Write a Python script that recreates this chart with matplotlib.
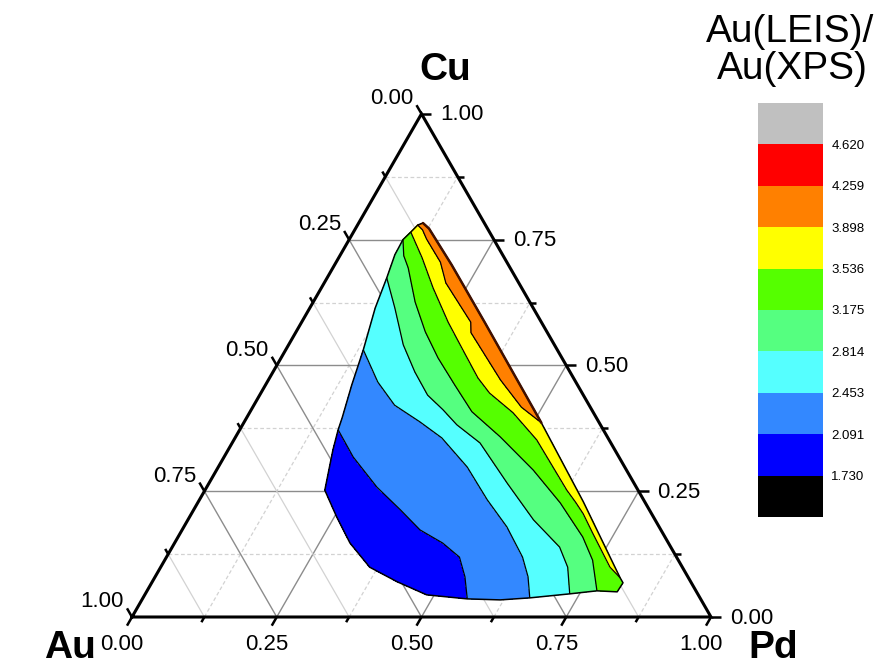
import numpy as np
import matplotlib
matplotlib.use("Agg")
import matplotlib.pyplot as plt
import matplotlib.tri as mtri
from matplotlib.path import Path
from matplotlib.patches import Polygon

plt.rcParams['font.family'] = ['Liberation Sans', 'DejaVu Sans']

# Colour scale of the Au(LEIS)/Au(XPS) ratio
levels = [1.369, 1.730, 2.091, 2.453, 2.814, 3.175, 3.536, 3.898, 4.259, 4.620, 4.981]
band_colors = ['#000000', '#0000ff', '#3388ff', '#55ffff', '#55ff80',
               '#55ff00', '#ffff00', '#ff8000', '#ff0000', '#c0c0c0']
tick_values = [0.00, 0.25, 0.50, 0.75, 1.00]

# Outline of the measured composition area (counter-clockwise from the Cu-rich tip)
edge_cu = [0.783, 0.779, 0.765, 0.750, 0.720, 0.674, 0.614, 0.531, 0.461, 0.396,
           0.372, 0.332, 0.252, 0.199, 0.147, 0.099, 0.070, 0.044, 0.036, 0.034,
           0.038, 0.046, 0.052, 0.050, 0.068, 0.078, 0.229, 0.386, 0.586, 0.700,
           0.772]
edge_pd = [0.111, 0.104, 0.099, 0.093, 0.094, 0.103, 0.113, 0.134, 0.149, 0.165,
           0.170, 0.181, 0.207, 0.254, 0.303, 0.361, 0.423, 0.487, 0.561, 0.619,
           0.668, 0.733, 0.777, 0.813, 0.814, 0.804, 0.665, 0.514, 0.316, 0.202,
           0.127]
edge_ratio = [4.05, 3.898, 3.536, 3.175, 3.00, 2.814, 2.65, 2.453, 2.30, 2.16,
              2.091, 1.98, 1.90, 1.86, 1.86, 1.90, 1.95, 2.02, 2.091, 2.28,
              2.453, 2.814, 3.175, 3.35, 3.45, 3.536, 3.72, 3.898, 4.12, 4.12,
              4.10]

# Compositions inside the area lying on each iso-ratio line
iso_2091_cu = [0.318, 0.258, 0.213, 0.173, 0.147, 0.119, 0.080]
iso_2091_pd = [0.223, 0.294, 0.357, 0.411, 0.463, 0.506, 0.535]
iso_2453_cu = [0.467, 0.421, 0.388, 0.356, 0.298, 0.233, 0.179, 0.119, 0.080]
iso_2453_pd = [0.191, 0.243, 0.303, 0.357, 0.430, 0.497, 0.558, 0.615, 0.644]
iso_2814_cu = [0.614, 0.541, 0.487, 0.441, 0.412, 0.346, 0.266, 0.193, 0.139, 0.099]
iso_2814_pd = [0.147, 0.198, 0.245, 0.290, 0.331, 0.428, 0.515, 0.597, 0.669, 0.703]
iso_3175_cu = [0.694, 0.626, 0.567, 0.515, 0.461, 0.408, 0.358, 0.292, 0.227, 0.159, 0.113]
iso_3175_pd = [0.130, 0.176, 0.223, 0.271, 0.327, 0.383, 0.457, 0.547, 0.626, 0.699, 0.739]
iso_3536_cu = [0.714, 0.654, 0.586, 0.535, 0.475, 0.445, 0.406, 0.352, 0.252, 0.167, 0.099]
iso_3536_pd = [0.144, 0.193, 0.253, 0.302, 0.360, 0.395, 0.455, 0.523, 0.625, 0.712, 0.776]
iso_3898_cu = [0.664, 0.565, 0.471, 0.417]
iso_3898_pd = [0.210, 0.303, 0.401, 0.464]

SQ3 = np.sqrt(3) / 2


def to_xy(cu, pd):
    cu = np.asarray(cu, float)
    pd = np.asarray(pd, float)
    return pd + cu / 2, cu * SQ3


fig = plt.figure(figsize=(8.91, 6.67), dpi=100)
ax = fig.add_axes([0, 0, 1, 1])
ax.set_xlim(-132 / 579, (891 - 132) / 579)
ax.set_ylim((617 - 667) / 581, 617 / 581)
ax.axis('off')

PX = 1 / 580.0
TICK_FS = 16

# ---- grid lines -------------------------------------------------------
for k in range(1, 8):
    v = k / 8
    major = (k % 2 == 0)
    col = '#8c8c8c' if major else '#d2d2d2'
    lw = 1.0 if major else 0.9
    # constant Cu (horizontal)
    x, y = to_xy([v, v], [0, 1 - v])
    ax.plot(x, y, color=col, lw=lw, ls='-' if major else (0, (3, 2)), zorder=1)
    # constant Pd
    x, y = to_xy([0, 1 - v], [v, v])
    ax.plot(x, y, color=col, lw=lw, ls='-' if major else (0, (3, 2)), zorder=1)
    # constant Au
    x, y = to_xy([0, 1 - v], [1 - v, 0])
    ax.plot(x, y, color=col, lw=lw, ls='-', zorder=1)

# ---- triangle frame ---------------------------------------------------
fx, fy = to_xy([0, 0, 1, 0], [0, 1, 0, 0])
ax.plot(fx, fy, color='black', lw=2.2, solid_joinstyle='miter', zorder=6)

# ---- ticks and tick labels --------------------------------------------
dir_bottom = np.array([-0.5, -SQ3])
dir_right = np.array([1.0, 0.0])
dir_left = np.array([-0.5, SQ3])
for k in range(0, 9):
    v = k / 8
    ln = (10 if k % 2 == 0 else 6) * PX
    bx, by = to_xy(0, v)          # bottom axis: Pd fraction
    ax.plot([bx, bx + dir_bottom[0] * ln], [by, by + dir_bottom[1] * ln],
            color='black', lw=1.8, zorder=6, solid_capstyle='butt')
    rx, ry = to_xy(v, 1 - v)      # right axis: Cu fraction
    ax.plot([rx, rx + dir_right[0] * ln], [ry, ry + dir_right[1] * ln],
            color='black', lw=1.8, zorder=6, solid_capstyle='butt')
    lx, ly = to_xy(1 - v, 0)      # left axis: Au fraction
    ax.plot([lx, lx + dir_left[0] * ln], [ly, ly + dir_left[1] * ln],
            color='black', lw=1.8, zorder=6, solid_capstyle='butt')

for v in tick_values:
    lab = f"{v:.2f}"
    bx, by = to_xy(0, v)
    ax.text(bx - 10 * PX, by - 27 * PX, lab, ha='center', va='center', fontsize=TICK_FS)
    rx, ry = to_xy(v, 1 - v)
    ax.text(rx + 19 * PX, ry - 1 * PX, lab, ha='left', va='center', fontsize=TICK_FS)
    lx, ly = to_xy(1 - v, 0)
    ax.text(lx - 8 * PX, ly + 15 * PX, lab, ha='right', va='center', fontsize=TICK_FS)

ax.text((445 - 132) / 579, (617 - 70) / 581, 'Cu', ha='center', va='center',
        fontsize=28, fontweight='bold')
ax.text((70 - 132) / 579, (617 - 648) / 581, 'Au', ha='center', va='center',
        fontsize=28, fontweight='bold')
ax.text((773 - 132) / 579, (617 - 648) / 581, 'Pd', ha='center', va='center',
        fontsize=28, fontweight='bold')

# ---- ratio map ----------------------------------------------------------
iso_sets = [(2.091, iso_2091_cu, iso_2091_pd), (2.453, iso_2453_cu, iso_2453_pd),
            (2.814, iso_2814_cu, iso_2814_pd), (3.175, iso_3175_cu, iso_3175_pd),
            (3.536, iso_3536_cu, iso_3536_pd), (3.898, iso_3898_cu, iso_3898_pd)]
all_cu = list(edge_cu)
all_pd = list(edge_pd)
all_z = list(edge_ratio)
for val, cus, pds in iso_sets:
    all_cu += cus
    all_pd += pds
    all_z += [val] * len(cus)

X, Y = to_xy(all_cu, all_pd)
Z = np.array(all_z)
tri = mtri.Triangulation(X, Y)
ex, ey = to_xy(edge_cu, edge_pd)
outline = np.column_stack([ex, ey])
cx = X[tri.triangles].mean(axis=1)
cy = Y[tri.triangles].mean(axis=1)
inside = Path(outline).contains_points(np.column_stack([cx, cy]))
tri.set_mask(~inside)

cs = ax.tricontourf(tri, Z, levels=levels, colors=band_colors, zorder=3)
ax.tricontour(tri, Z, levels=levels[1:-1], colors='black', linewidths=0.9, zorder=4)
ax.add_patch(Polygon(outline, closed=True, fill=False, ec='black', lw=1.1,
                     joinstyle='round', zorder=5))
# darker rim along the Pd-poor edge of the orange band
rim = [27, 28, 29, 30, 0]
ax.plot(ex[rim], ey[rim], color='#401000', lw=1.8, solid_capstyle='round', zorder=5)

# ---- colour bar -------------------------------------------------------
cax = fig.add_axes([758 / 891, 1 - 517 / 667, 65 / 891, 414 / 667])
cb = fig.colorbar(cs, cax=cax, ticks=levels[1:-1])
cb.outline.set_visible(False)
cb.ax.set_yticklabels([f"{t:.3f}" for t in levels[1:-1]])
cb.ax.tick_params(length=0, labelsize=9.5, pad=6)

fig.text(790 / 891, 1 - 32 / 667, 'Au(LEIS)/', ha='center', va='center', fontsize=28)
fig.text(792 / 891, 1 - 69 / 667, 'Au(XPS)', ha='center', va='center', fontsize=28)

fig.savefig('out.png', dpi=100)
